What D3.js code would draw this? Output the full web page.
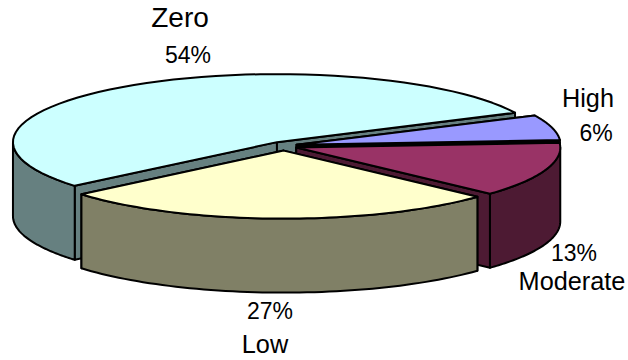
<!DOCTYPE html>
<html>
<head>
<meta charset="utf-8">
<script src="https://cdn.jsdelivr.net/npm/d3@7"></script>
<style>
  html, body { margin: 0; background: #fff; }
  text { font-family: "Liberation Sans", Arial, sans-serif; fill: #000; }
</style>
</head>
<body>
<svg id="chart" width="628" height="360"></svg>
<script>
const categories = ["Zero", "High", "Moderate", "Low"];
const percents = [54, 6, 13, 27];
const topColors = ["#ccffff", "#9999ff", "#993366", "#ffffcc"];
const wallColors = ["#668080", "#000000", "#4d1a33", "#808066"];

// label anchor points, one pair of lines per slice
const nameX = [180, 588, 572, 265];
const nameY = [27, 107, 290, 353];
const nameSize = [28, 25.3, 25.3, 25.3];
const pctX = [188, 596, 574, 270];
const pctY = [63, 141, 261, 319];

const rx = 264;
const ry = 68;
const depth = 74;
const cx0 = 284;
const cy0 = 146;
const explode = 13;
const explodeY = 4.6;

const rad = Math.PI / 180;
const pie = d3
  .pie()
  .sort(null)
  .startAngle(230 * rad)
  .endAngle(590 * rad);

const svg = d3.select("#chart");
const line = d3.line();

const slices = pie(percents).map((d, i) => {
  const mid = (d.startAngle + d.endAngle) / 2;
  return {
    i,
    start: d.startAngle,
    end: d.endAngle,
    cx: cx0 + explode * Math.sin(mid),
    cy: cy0 - explodeY * Math.cos(mid),
  };
});

function pt(s, a, dy = 0) {
  return [s.cx + rx * Math.sin(a), s.cy - ry * Math.cos(a) + dy];
}

function arcPoints(s, a0, a1, dy = 0) {
  return d3.range(0, 61).map((k) => pt(s, a0 + ((a1 - a0) * k) / 60, dy));
}

// front-facing part of the rim, where the angle sits in the lower half
function rimPath(s) {
  const windows = [
    [Math.PI / 2, (3 * Math.PI) / 2],
    [(5 * Math.PI) / 2, (7 * Math.PI) / 2],
  ];
  return windows
    .map(([lo, hi]) => {
      const a0 = Math.max(s.start, lo);
      const a1 = Math.min(s.end, hi);
      if (a0 >= a1) return "";
      const top = arcPoints(s, a0, a1);
      const bottom = arcPoints(s, a1, a0, depth);
      return line(top.concat(bottom)) + "Z";
    })
    .join("");
}

function cutPath(s, a) {
  const c = [s.cx, s.cy];
  const e = pt(s, a);
  return line([c, e, [e[0], e[1] + depth], [c[0], c[1] + depth]]) + "Z";
}

const sliceG = svg
  .selectAll(".slice")
  .data(slices)
  .enter()
  .append("g")
  .attr("class", "slice")
  .attr("stroke", "#000")
  .attr("stroke-width", 2)
  .attr("stroke-linejoin", "round");

// walls along the two radii, then the rim, then the top face
sliceG.each(function (s) {
  const g = d3.select(this);
  [s.start, s.end].forEach((a) => {
    g.append("path").attr("d", cutPath(s, a)).attr("fill", wallColors[s.i]);
  });
  const rim = rimPath(s);
  if (rim) g.append("path").attr("d", rim).attr("fill", wallColors[s.i]);
  const wedge = [[s.cx, s.cy]].concat(arcPoints(s, s.start, s.end));
  g.append("path")
    .attr("d", line(wedge) + "Z")
    .attr("fill", topColors[s.i]);
});

svg
  .selectAll(".name")
  .data(categories)
  .enter()
  .append("text")
  .attr("class", "name")
  .attr("text-anchor", "middle")
  .attr("font-size", (d, i) => nameSize[i])
  .attr("x", (d, i) => nameX[i])
  .attr("y", (d, i) => nameY[i])
  .text((d) => d);

svg
  .selectAll(".pct")
  .data(percents)
  .enter()
  .append("text")
  .attr("class", "pct")
  .attr("text-anchor", "middle")
  .attr("font-size", 23)
  .attr("x", (d, i) => pctX[i])
  .attr("y", (d, i) => pctY[i])
  .text((d) => d + "%");
</script>
</body>
</html>
